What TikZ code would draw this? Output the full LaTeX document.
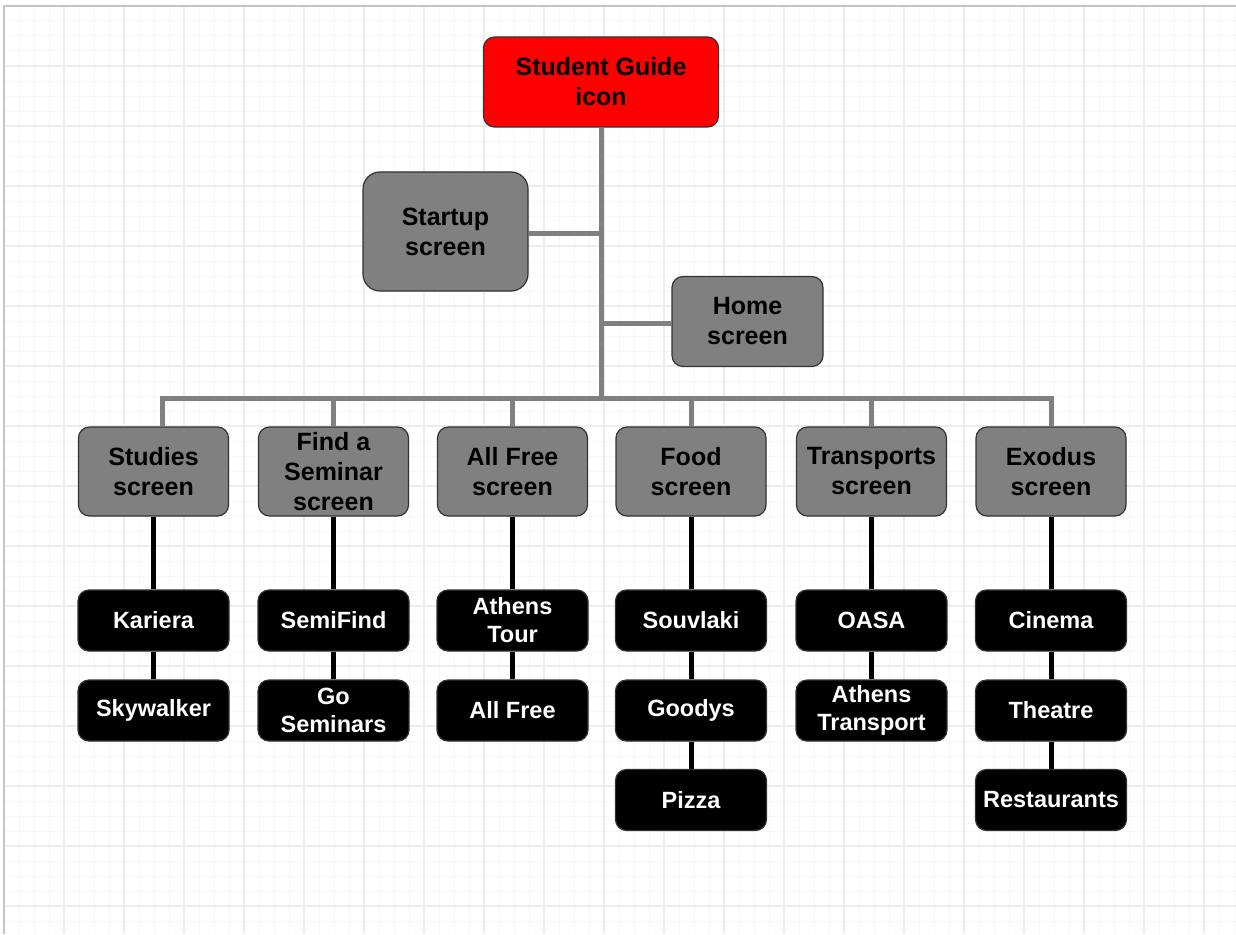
\documentclass[tikz,border=0pt]{standalone}
\usepackage{fontspec}
\setmainfont{Liberation Sans}
\definecolor{boxedge}{HTML}{333333}
\definecolor{graybox}{HTML}{808080}
\definecolor{linegray}{HTML}{808080}
\definecolor{gridminor}{HTML}{F7F7F7}
\definecolor{gridmajor}{HTML}{EDEDED}
\definecolor{frame}{HTML}{C4C4C4}
\definecolor{iconred}{HTML}{FF0000}
\tikzset{
  base/.style={rounded corners=11pt, draw=boxedge, line width=1.2pt, align=center,
    font=\bfseries\fontsize{25}{30}\selectfont, inner sep=0pt},
  redbox/.style={base, fill=iconred, minimum width=235pt, minimum height=90pt},
  grbox/.style={base, fill=graybox, minimum width=150pt, minimum height=89pt},
  bkbox/.style={base, fill=black, text=white, minimum width=151pt, minimum height=61pt,
    font=\bfseries\fontsize{23.5}{28}\selectfont},
  grayline/.style={draw=linegray, line width=5pt},
  blackline/.style={draw=black, line width=5pt},
  minorline/.style={draw=gridminor, line width=1pt},
  majorline/.style={draw=gridmajor, line width=1.2pt},
}
\begin{document}
\begin{tikzpicture}[x=1pt,y=-1pt]
\useasboundingbox (0,0) rectangle (1236,934);
\fill[white] (0,0) rectangle (1236,934);
% grid
\foreach \i in {0,...,82} {\draw[minorline] ({4+15*\i},6) -- ({4+15*\i},934);}
\foreach \j in {0,...,61} {\draw[minorline] (4,{6+15*\j}) -- (1236,{6+15*\j});}
\foreach \i in {0,...,20} {\draw[majorline] ({4+60*\i},6) -- ({4+60*\i},934);}
\foreach \j in {0,...,15} {\draw[majorline] (4,{6+60*\j}) -- (1236,{6+60*\j});}
\draw[frame, line width=1.5pt] (4,934) -- (4,6) -- (1236,6);

% top
\node[redbox] (icon) at (601,82) {Student Guide\\icon};
\node[grbox, minimum width=165pt, minimum height=119pt, rounded corners=17pt] (startup) at (445.5,231.5) {Startup\\screen};
\node[grbox, minimum width=151pt, minimum height=90pt] (home) at (747.5,321.5) {Home\\screen};

% level 2
\node[grbox] (studies) at (153.5,471.5) {Studies\\screen};
\node[grbox] (seminar) at (333.5,471.5) {Find a\\Seminar\\screen};
\node[grbox] (allfree) at (512.5,471.5) {All Free\\screen};
\node[grbox] (food) at (691,471.5) {Food\\screen};
\node[grbox] (transports) at (871.5,471.5) {Transports\\screen};
\node[grbox] (exodus) at (1051,471.5) {Exodus\\screen};

% level 3
\node[bkbox] (kariera) at (153.5,620.5) {Kariera};
\node[bkbox] (skywalker) at (153.5,710.5) {Skywalker};
\node[bkbox] (semifind) at (333.5,620.5) {SemiFind};
\node[bkbox] (goseminars) at (333.5,710.5) {Go\\Seminars};
\node[bkbox] (athenstour) at (512.5,620.5) {Athens\\Tour};
\node[bkbox] (allfreeb) at (512.5,710.5) {All Free};
\node[bkbox] (souvlaki) at (691,620.5) {Souvlaki};
\node[bkbox] (goodys) at (691,710.5) {Goodys};
\node[bkbox] (pizza) at (691,800) {Pizza};
\node[bkbox] (oasa) at (871.5,620.5) {OASA};
\node[bkbox] (athenstransport) at (871.5,710.5) {Athens\\Transport};
\node[bkbox] (cinema) at (1051,620.5) {Cinema};
\node[bkbox] (theatre) at (1051,710.5) {Theatre};
\node[bkbox] (restaurants) at (1051,800) {Restaurants};

% gray connectors
\coordinate (jstart) at (601.5,233);
\coordinate (jhome) at (601.5,323);
\coordinate (bL) at (162,398);
\coordinate (bM) at (601.5,398);
\coordinate (bR) at (1051,398);
\draw[grayline] (icon.south -| bM) -- (bM);
\draw[grayline] (startup.east |- jstart) -- (jstart);
\draw[grayline] (jhome) -- (home.west |- jhome);
\draw[grayline] (bL |- studies.north) -- (bL) -- (bR) -- (exodus.north);
\foreach \n in {seminar,allfree,food,transports} {\draw[grayline] (\n.north) -- (\n.north |- bL);}

% black connectors
\draw[blackline] (studies.south) -- (kariera.north);
\draw[blackline] (kariera.south) -- (skywalker.north);
\draw[blackline] (seminar.south) -- (semifind.north);
\draw[blackline] (semifind.south) -- (goseminars.north);
\draw[blackline] (allfree.south) -- (athenstour.north);
\draw[blackline] (athenstour.south) -- (allfreeb.north);
\draw[blackline] (food.south) -- (souvlaki.north);
\draw[blackline] (souvlaki.south) -- (goodys.north);
\draw[blackline] (goodys.south) -- (pizza.north);
\draw[blackline] (transports.south) -- (oasa.north);
\draw[blackline] (oasa.south) -- (athenstransport.north);
\draw[blackline] (exodus.south) -- (cinema.north);
\draw[blackline] (cinema.south) -- (theatre.north);
\draw[blackline] (theatre.south) -- (restaurants.north);
\end{tikzpicture}
\end{document}
